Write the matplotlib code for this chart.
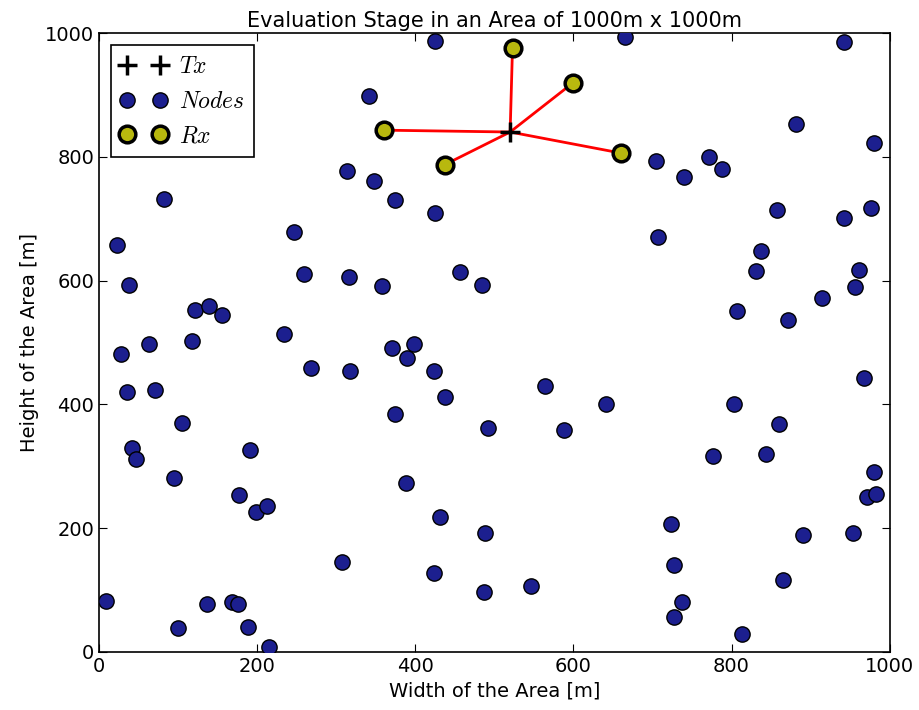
import numpy as np
import matplotlib
matplotlib.use("Agg")
import matplotlib.pyplot as plt

plt.rcParams['mathtext.fontset'] = 'cm'

# Node positions (m)
node_x = [341, 314, 82, 247, 425, 665, 348, 375, 425, 942, 882, 980, 705, 740, 771, 788,
          858, 942, 977, 707, 23, 38, 259, 316, 121, 139, 155, 234, 63, 118, 28, 268,
          317, 35, 71, 105, 42, 191, 47, 95, 177, 198, 212, 307, 9, 137, 168, 176,
          100, 188, 215, 358, 456, 484, 370, 398, 389, 424, 437, 375, 492, 564, 641,
          588, 388, 431, 488, 424, 487, 546, 837, 831, 961, 956, 915, 807, 872, 968,
          803, 860, 777, 844, 980, 971, 983, 723, 890, 954, 727, 865, 737, 727, 813]
node_y = [898, 777, 732, 679, 987, 994, 761, 730, 709, 986, 853, 822, 793, 767, 800, 780,
          714, 701, 717, 671, 658, 593, 611, 606, 553, 559, 544, 514, 498, 502, 481, 459,
          454, 420, 423, 370, 330, 326, 312, 281, 254, 226, 236, 145, 82, 78, 81, 78,
          39, 40, 8, 591, 614, 593, 491, 498, 475, 454, 412, 384, 362, 430, 401,
          359, 273, 218, 192, 128, 97, 107, 648, 616, 617, 590, 572, 551, 536, 443,
          401, 368, 317, 320, 291, 250, 255, 207, 189, 192, 141, 116, 81, 57, 29]

# Transmitter and receivers
tx_x, tx_y = 520, 840
rx_x = [523, 599, 360, 437, 660]
rx_y = [976, 919, 843, 787, 806]

fig = plt.figure(figsize=(9.2, 7.1), dpi=100)
ax = fig.add_axes([0.1076, 0.082, 0.8594, 0.8715])

for x, y in zip(rx_x, rx_y):
    ax.plot([tx_x, x], [tx_y, y], color='red', lw=2, zorder=2)

ax.plot(node_x, node_y, 'o', color='#1c1f8f', mec='black', mew=1, ms=11,
        ls='none', label='$Nodes$', zorder=3)
ax.plot(rx_x, rx_y, 'o', color='#b8b80e', mec='black', mew=2.5, ms=12,
        ls='none', label='$Rx$', zorder=4)
ax.plot([tx_x], [tx_y], '+', color='black', mew=2.5, ms=14,
        ls='none', label='$Tx$', zorder=5)

handles, labels = ax.get_legend_handles_labels()
order = [2, 0, 1]
leg = ax.legend([handles[i] for i in order], [labels[i] for i in order],
                loc='upper left', numpoints=2, fontsize=17, fancybox=False,
                edgecolor='black', framealpha=1, borderpad=0.4,
                labelspacing=0.45, handletextpad=0.5)
leg.get_frame().set_linewidth(1.2)

ax.set_xlim(0, 1000)
ax.set_ylim(0, 1000)
ax.set_xticks(np.arange(0, 1001, 200))
ax.set_yticks(np.arange(0, 1001, 200))
ax.tick_params(direction='in', top=True, right=True, length=6, labelsize=14)
for s in ax.spines.values():
    s.set_linewidth(1.2)

ax.set_title('Evaluation Stage in an Area of 1000m x 1000m', fontsize=15, pad=4)
ax.set_xlabel('Width of the Area [m]', fontsize=14)
ax.set_ylabel('Height of the Area [m]', fontsize=14)

fig.savefig('out.png', dpi=100)
